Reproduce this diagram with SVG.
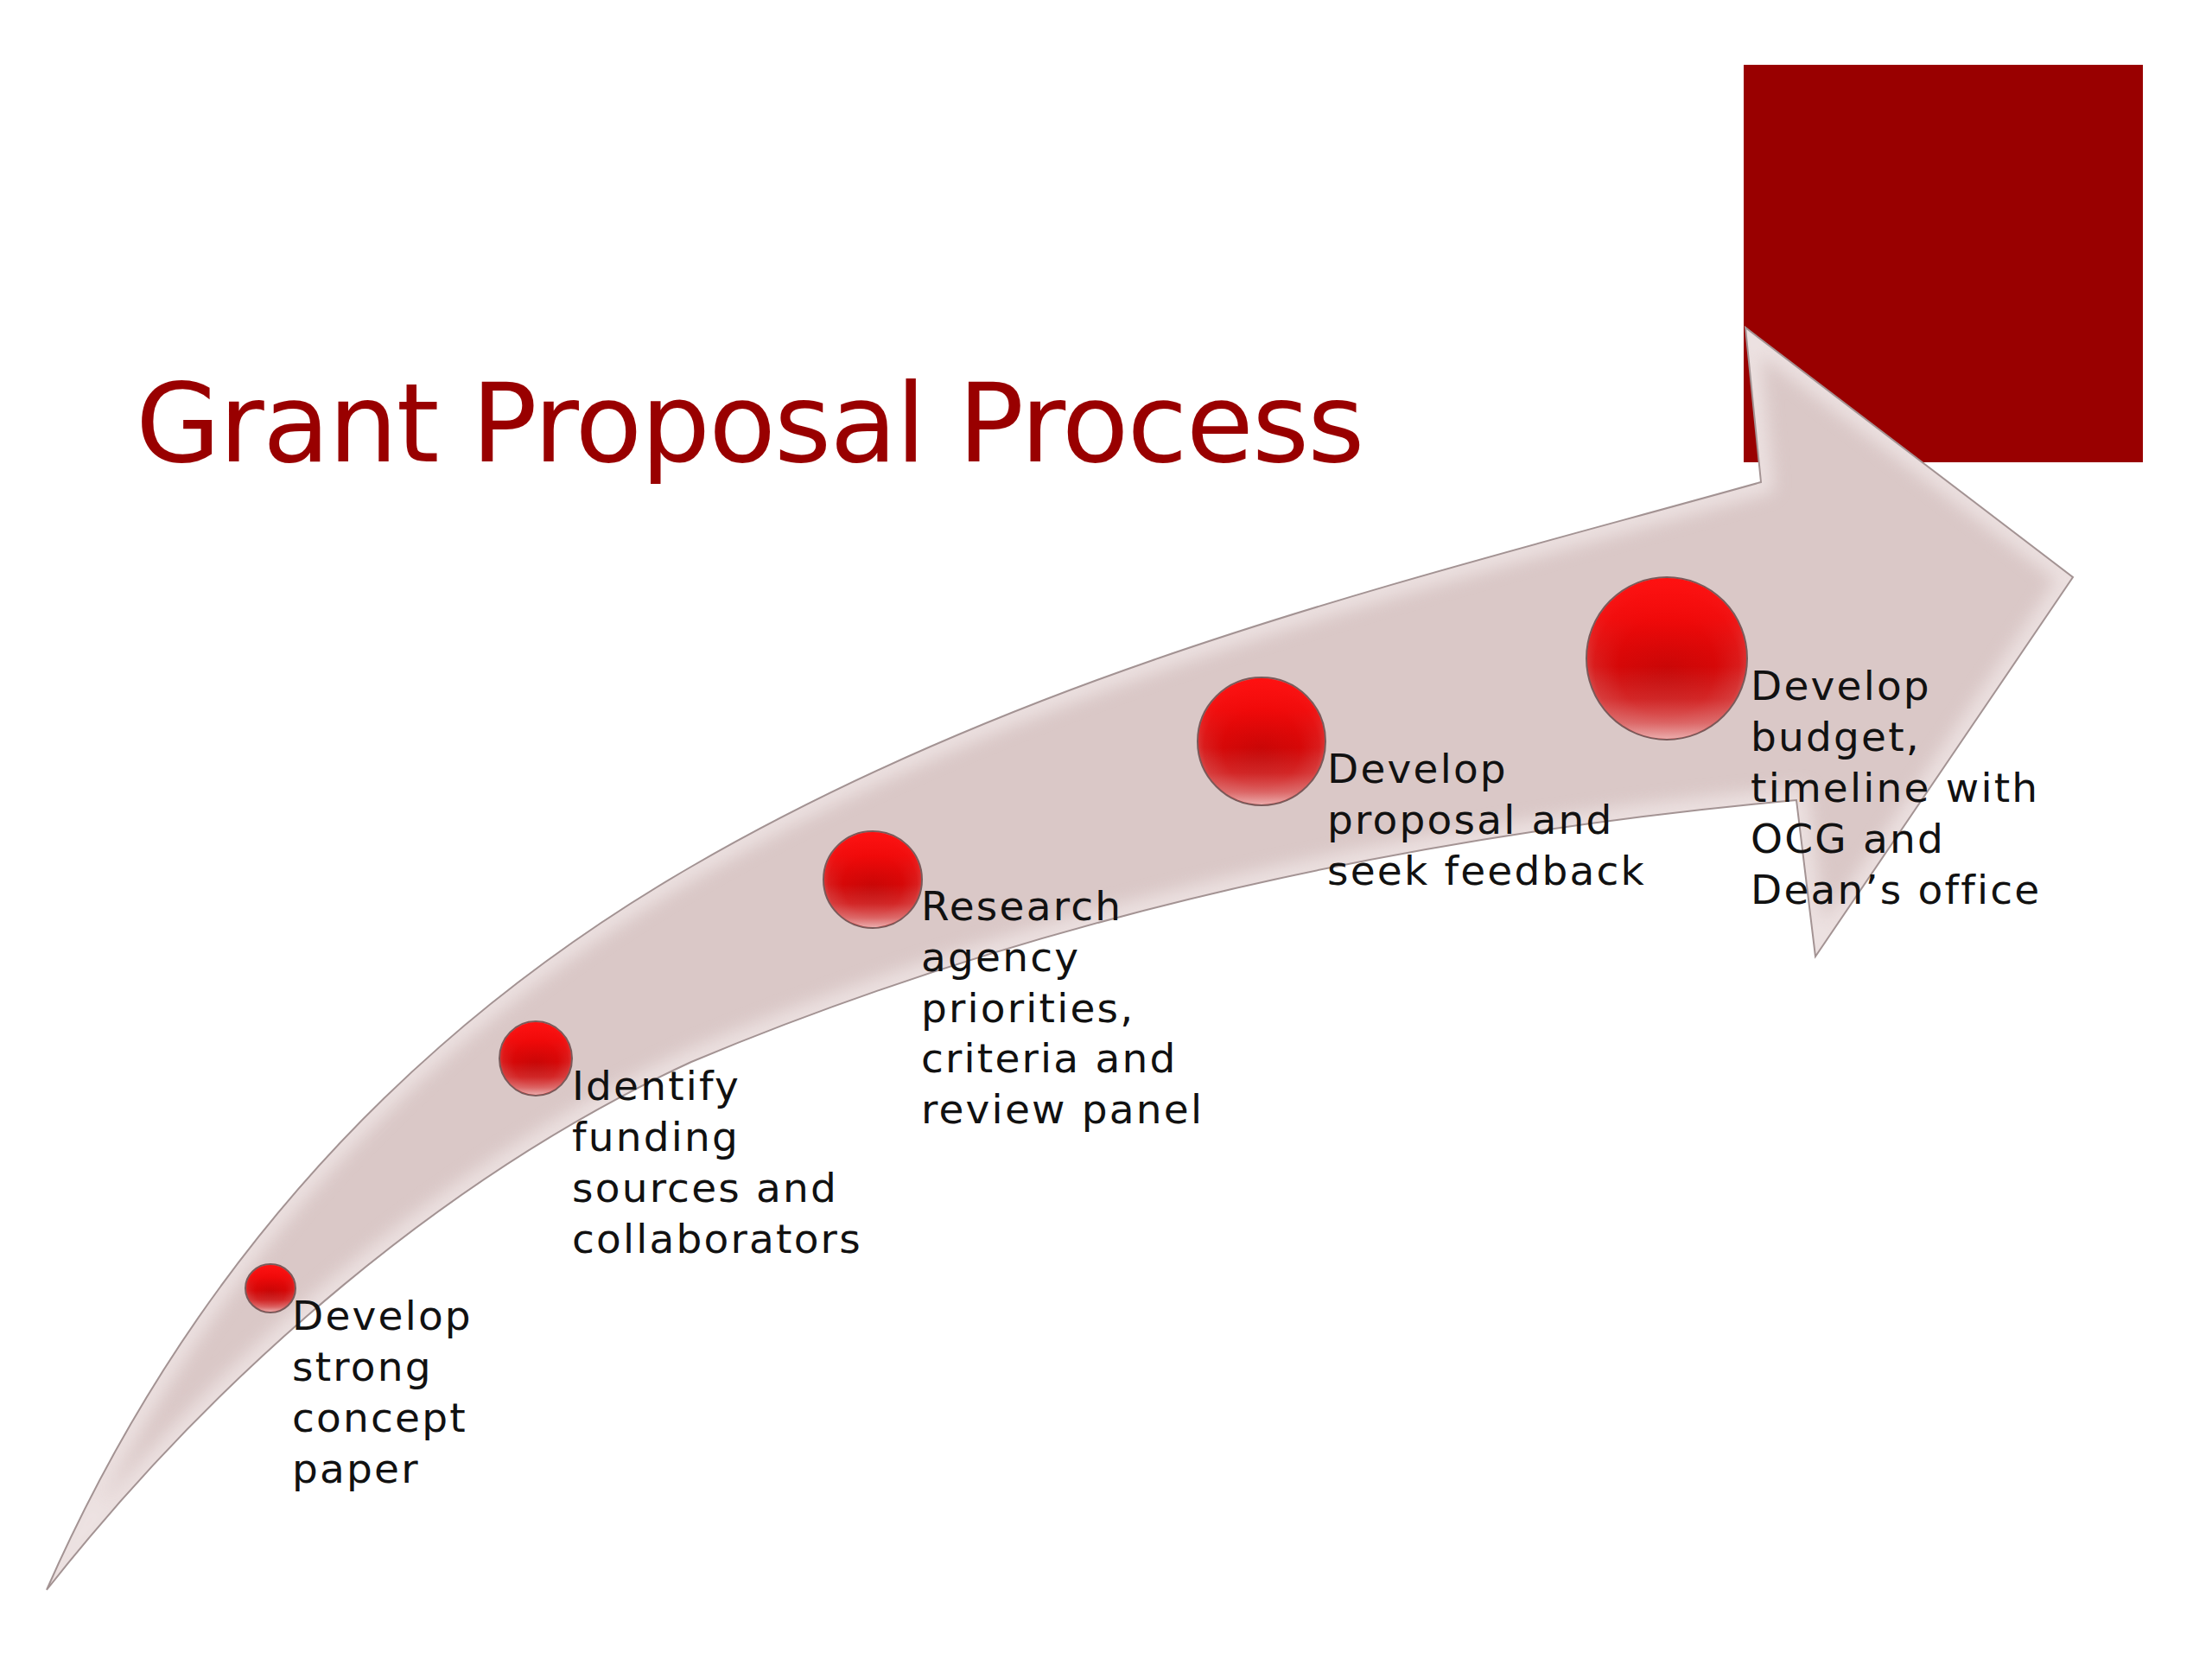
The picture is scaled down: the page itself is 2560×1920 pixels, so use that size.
<svg xmlns="http://www.w3.org/2000/svg" width="2560" height="1920" viewBox="0 0 2560 1920">
<defs>
<style>
.lbl{font-family:"DejaVu Sans","Liberation Sans",sans-serif;font-size:47px;letter-spacing:2.2px;fill:#111111;}
.ttl{font-family:"DejaVu Sans","Liberation Sans",sans-serif;font-size:127px;letter-spacing:-1.8px;fill:#990000;}
.ball{fill:url(#ballBase);stroke:#7a5a5a;stroke-width:2;}
.shine{fill:url(#ballTop);stroke:none;}
.glow{fill:url(#ballBottom);stroke:none;}
</style>
<radialGradient id="ballBase" cx="0.5" cy="0.55" r="0.6">
<stop offset="0" stop-color="#c20606"/>
<stop offset="0.5" stop-color="#d00808"/>
<stop offset="0.75" stop-color="#d42222"/>
<stop offset="0.9" stop-color="#d45e5e"/>
<stop offset="1" stop-color="#da8a8a"/>
</radialGradient>
<linearGradient id="ballTop" x1="0" y1="0" x2="0" y2="1">
<stop offset="0" stop-color="#ff1010" stop-opacity="1"/>
<stop offset="0.25" stop-color="#f60a0a" stop-opacity="0.85"/>
<stop offset="0.45" stop-color="#ee0808" stop-opacity="0.4"/>
<stop offset="0.65" stop-color="#ea0808" stop-opacity="0"/>
<stop offset="1" stop-color="#ea0808" stop-opacity="0"/>
</linearGradient>
<linearGradient id="ballBottom" x1="0" y1="0" x2="0" y2="1">
<stop offset="0" stop-color="#e8a8a8" stop-opacity="0"/>
<stop offset="0.55" stop-color="#e8a8a8" stop-opacity="0"/>
<stop offset="0.75" stop-color="#e0a0a0" stop-opacity="0.2"/>
<stop offset="0.9" stop-color="#e4a8a8" stop-opacity="0.55"/>
<stop offset="1" stop-color="#f0c4c4" stop-opacity="0.85"/>
</linearGradient>
<path id="arrowShape" d="M54,1840 C230,1440 500,1177 800,1003 C1200,771 1638,670 2038,558 L2020,379 L2399,668 L2101,1107 L2079,926 C1659,964 1220,1053 800,1229 C520,1358 254,1586 54,1840 Z"/>
<clipPath id="arrowClip"><use href="#arrowShape"/></clipPath>
<filter id="soft" x="-10%" y="-10%" width="120%" height="120%"><feGaussianBlur stdDeviation="10"/></filter>
</defs>
<rect x="0" y="0" width="2560" height="1920" fill="#ffffff"/>
<g id="title"><text class="ttl" x="157" y="534">Grant Proposal Process</text></g>
<g id="corner-square"><rect x="2018" y="75" width="462" height="460" fill="#990000"/></g>
<g id="connectors">
<use href="#arrowShape" fill="#dac8c7"/>
<g clip-path="url(#arrowClip)"><use href="#arrowShape" fill="none" stroke="#f3eaea" stroke-width="28" filter="url(#soft)" opacity="0.75"/></g>
<use href="#arrowShape" fill="none" stroke="#a39393" stroke-width="2"/>
</g>
<g id="step1">
<ellipse class="ball" cx="313" cy="1491" rx="29" ry="28"/>
<ellipse class="shine" cx="313" cy="1491" rx="28" ry="27"/>
<ellipse class="glow" cx="313" cy="1491" rx="28" ry="27"/>
<text class="lbl"><tspan x="338" y="1539">Develop</tspan><tspan x="338" y="1598">strong</tspan><tspan x="338" y="1657">concept</tspan><tspan x="338" y="1716">paper</tspan></text>
</g>
<g id="step2">
<ellipse class="ball" cx="620" cy="1225" rx="42" ry="43"/>
<ellipse class="shine" cx="620" cy="1225" rx="41" ry="42"/>
<ellipse class="glow" cx="620" cy="1225" rx="41" ry="42"/>
<text class="lbl"><tspan x="662" y="1273">Identify</tspan><tspan x="662" y="1332">funding</tspan><tspan x="662" y="1391">sources and</tspan><tspan x="662" y="1450">collaborators</tspan></text>
</g>
<g id="step3">
<ellipse class="ball" cx="1010" cy="1018" rx="57" ry="56"/>
<ellipse class="shine" cx="1010" cy="1018" rx="56" ry="55"/>
<ellipse class="glow" cx="1010" cy="1018" rx="56" ry="55"/>
<text class="lbl"><tspan x="1066" y="1065">Research</tspan><tspan x="1066" y="1124">agency</tspan><tspan x="1066" y="1183">priorities,</tspan><tspan x="1066" y="1241">criteria and</tspan><tspan x="1066" y="1300">review panel</tspan></text>
</g>
<g id="step4">
<ellipse class="ball" cx="1460" cy="858" rx="74" ry="74"/>
<ellipse class="shine" cx="1460" cy="858" rx="73" ry="73"/>
<ellipse class="glow" cx="1460" cy="858" rx="73" ry="73"/>
<text class="lbl"><tspan x="1536" y="906">Develop</tspan><tspan x="1536" y="965">proposal and</tspan><tspan x="1536" y="1024">seek feedback</tspan></text>
</g>
<g id="step5">
<ellipse class="ball" cx="1929" cy="762" rx="93" ry="94"/>
<ellipse class="shine" cx="1929" cy="762" rx="92" ry="93"/>
<ellipse class="glow" cx="1929" cy="762" rx="92" ry="93"/>
<text class="lbl"><tspan x="2026" y="810">Develop</tspan><tspan x="2026" y="869">budget,</tspan><tspan x="2026" y="928">timeline with</tspan><tspan x="2026" y="987">OCG and</tspan><tspan x="2026" y="1046">Dean’s office</tspan></text>
</g>
</svg>
